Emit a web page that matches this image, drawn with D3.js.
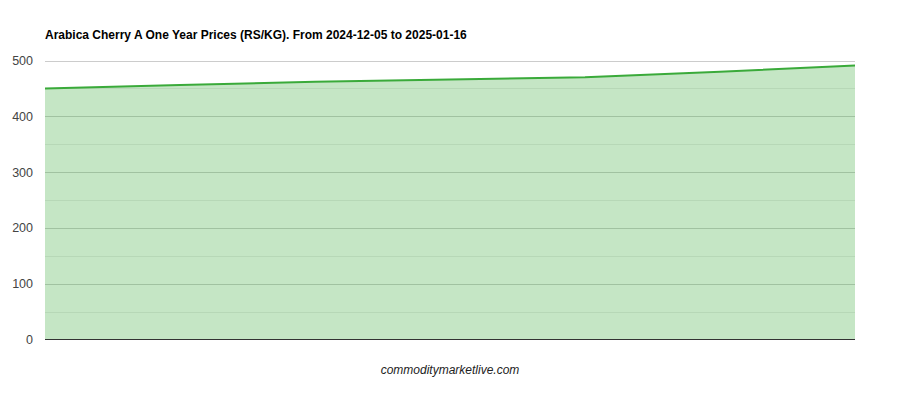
<!DOCTYPE html>
<html><head><meta charset="utf-8">
<script src="https://cdn.jsdelivr.net/npm/d3@7"></script>
<style>body{margin:0;background:#fff;}svg{display:block;font-family:"Liberation Sans",Arial,sans-serif;}</style>
</head><body>
<svg id="c" width="900" height="400"></svg>
<script>
const titleText = "Arabica Cherry A One Year Prices (RS/KG). From 2024-12-05 to 2025-01-16";
const dates = ["2024-12-05","2024-12-12","2024-12-19","2024-12-26","2025-01-02","2025-01-09","2025-01-16"];
const prices = [450, 456, 462, 466, 470, 480, 491];
const majorTicks = [0, 100, 200, 300, 400, 500];
const minorTicks = [50, 150, 250, 350, 450];
const footer = "commoditymarketlive.com";

(function () {
const svg = d3.select("#c");
const pLeft = 45, pRight = 855, pTop = 60.5, pBottom = 339.5;
const parse = d3.timeParse("%Y-%m-%d");
const data = dates.map((d, i) => ({date: parse(d), v: prices[i]}));
const x = d3.scaleTime().domain(d3.extent(data, d => d.date)).range([pLeft, pRight]);
const y = d3.scaleLinear().domain([0, 500]).range([pBottom, pTop]);

svg.append("text").attr("x", 45).attr("y", 39).attr("font-size", 12).attr("font-weight", "bold")
  .attr("fill", "#000").text(titleText);

svg.append("g").selectAll("line").data(minorTicks).join("line")
  .attr("x1", pLeft).attr("x2", pRight).attr("y1", d => Math.round(y(d)) + 0.5).attr("y2", d => Math.round(y(d)) + 0.5)
  .attr("stroke", "#ebebeb");
svg.append("g").selectAll("line").data(majorTicks.filter(d => d > 0)).join("line")
  .attr("x1", pLeft).attr("x2", pRight).attr("y1", d => Math.round(y(d)) + 0.5).attr("y2", d => Math.round(y(d)) + 0.5)
  .attr("stroke", "#cccccc");

const area = d3.area().x(d => x(d.date)).y0(y(0)).y1(d => y(d.v));
const line = d3.line().x(d => x(d.date)).y(d => y(d.v));
svg.append("path").datum(data).attr("d", area).attr("fill", "#3eac3e").attr("fill-opacity", 0.3);
svg.append("path").datum(data).attr("d", line).attr("fill", "none").attr("stroke", "#3aaa3a").attr("stroke-width", 2);

svg.append("line").attr("x1", pLeft).attr("x2", pRight).attr("y1", y(0)).attr("y2", y(0)).attr("stroke", "#333").attr("stroke-width", 1);

svg.append("g").selectAll("text").data(majorTicks).join("text")
  .attr("x", 33).attr("y", d => y(d) + 4.5).attr("text-anchor", "end").attr("font-size", 12.5)
  .attr("fill", "#444").text(d => d);

svg.append("text").attr("x", 450).attr("y", 374).attr("text-anchor", "middle").attr("font-size", 12)
  .attr("font-style", "italic").attr("fill", "#222").text(footer);
})();
</script>
</body></html>
